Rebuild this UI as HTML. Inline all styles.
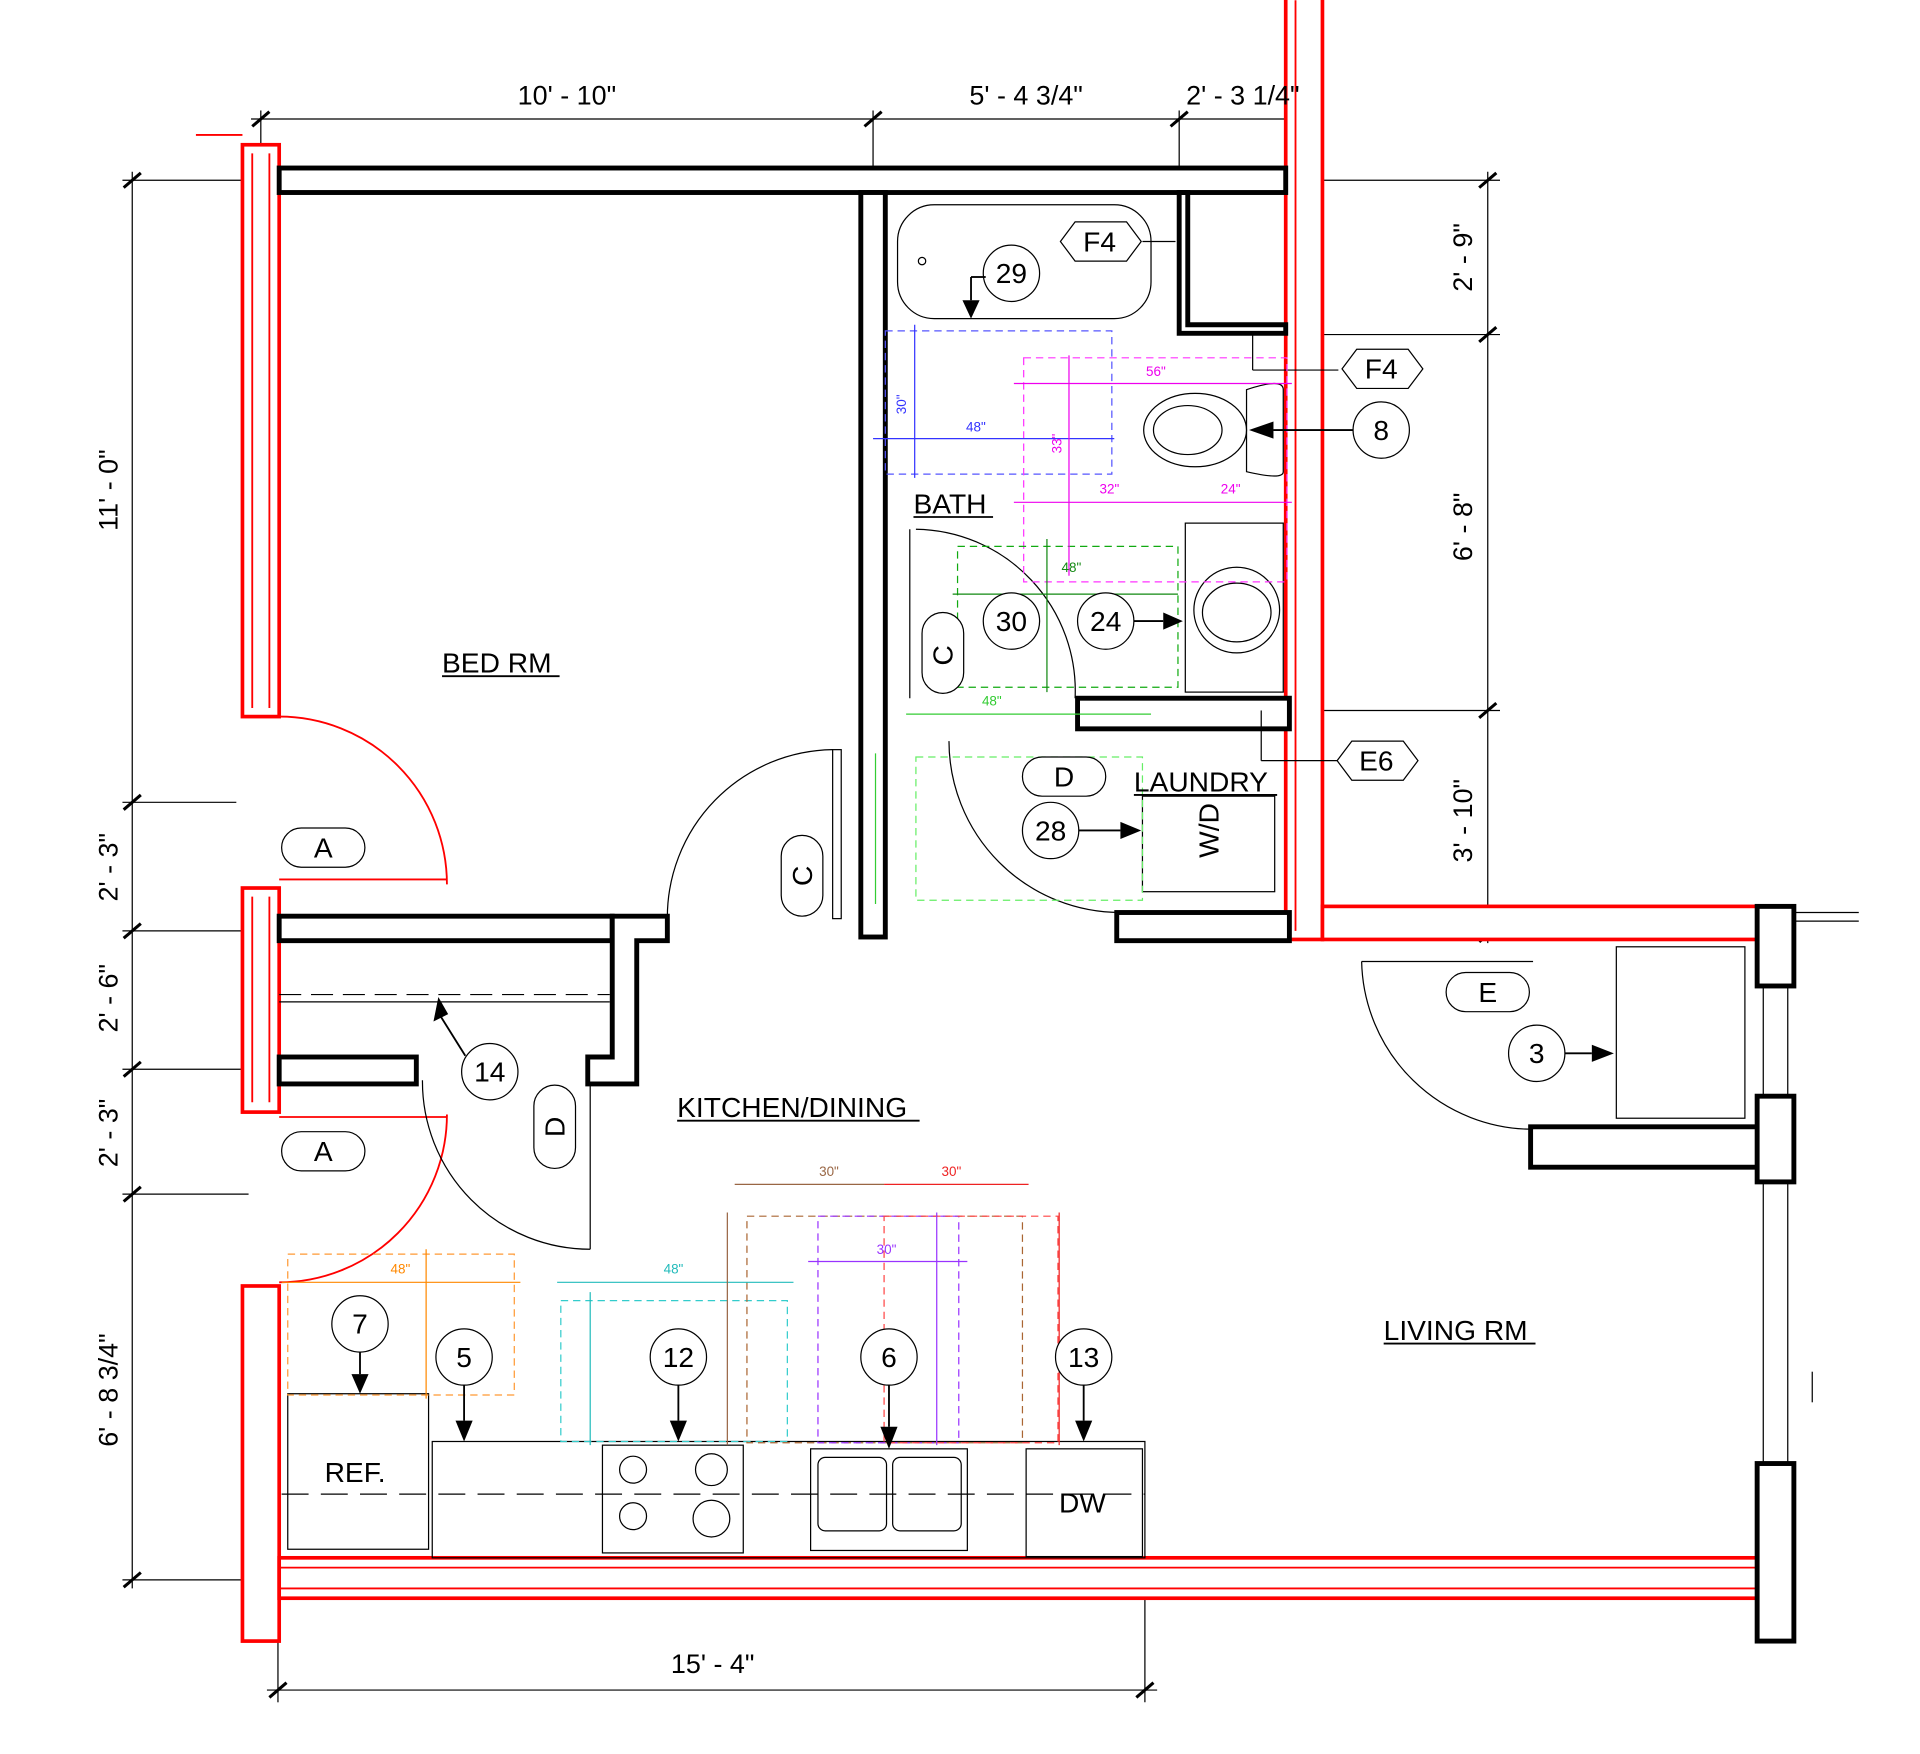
<!DOCTYPE html>
<html><head><meta charset="utf-8"><style>
html,body{margin:0;padding:0;background:#fff}
svg{display:block}
text{font-family:"Liberation Sans",sans-serif}
</style></head><body>
<svg width="1920" height="1754" viewBox="0 0 1568 1432" xmlns="http://www.w3.org/2000/svg">
<rect width="1568" height="1432" fill="#fff"/>
<g stroke="#000" stroke-width="1" fill="none">
<line x1="205" y1="97" x2="1078" y2="97"/>
<line x1="213" y1="90" x2="213" y2="120"/><line x1="713" y1="90" x2="713" y2="137"/><line x1="963" y1="90" x2="963" y2="155"/><line x1="1068" y1="90" x2="1068" y2="110"/>
<line x1="108" y1="140" x2="108" y2="1297"/>
<line x1="100" y1="147" x2="200" y2="147"/><line x1="100" y1="655" x2="193" y2="655"/><line x1="100" y1="760" x2="200" y2="760"/><line x1="100" y1="873" x2="200" y2="873"/><line x1="100" y1="975" x2="203" y2="975"/><line x1="100" y1="1290" x2="200" y2="1290"/>
<line x1="1215" y1="140" x2="1215" y2="770"/>
<line x1="1065" y1="147" x2="1225" y2="147"/><line x1="1065" y1="273" x2="1225" y2="273"/><line x1="1065" y1="580" x2="1225" y2="580"/><line x1="1185" y1="763" x2="1225" y2="763"/>
<line x1="218" y1="1380" x2="945" y2="1380"/>
<line x1="227" y1="1310" x2="227" y2="1390"/><line x1="935" y1="1285" x2="935" y2="1390"/>
</g>
<g stroke="#000" stroke-width="2.5">
<line x1="206" y1="103" x2="220" y2="91"/><line x1="706" y1="103" x2="720" y2="91"/><line x1="956" y1="103" x2="970" y2="91"/><line x1="1061" y1="103" x2="1075" y2="91"/>
<line x1="101" y1="153" x2="115" y2="141"/><line x1="101" y1="661" x2="115" y2="649"/><line x1="101" y1="766" x2="115" y2="754"/><line x1="101" y1="879" x2="115" y2="867"/><line x1="101" y1="981" x2="115" y2="969"/><line x1="101" y1="1296" x2="115" y2="1284"/>
<line x1="1208" y1="153" x2="1222" y2="141"/><line x1="1208" y1="279" x2="1222" y2="267"/><line x1="1208" y1="586" x2="1222" y2="574"/><line x1="1208" y1="769" x2="1222" y2="757"/>
<line x1="220" y1="1386" x2="234" y2="1374"/><line x1="928" y1="1386" x2="942" y2="1374"/>
</g>
<g fill="#fff" stroke="#f00" stroke-width="3">
<rect x="198" y="118" width="30" height="467"/>
<rect x="198" y="725" width="30" height="183"/>
<rect x="198" y="1050" width="30" height="290"/>
<rect x="1050" y="-5" width="30" height="772"/>
<rect x="1080" y="740" width="355" height="27"/>
<rect x="228" y="1272" width="1207" height="33"/>
</g>
<g stroke="#f00" stroke-width="1.5" fill="none">
<line x1="206" y1="125" x2="206" y2="578"/><line x1="220" y1="125" x2="220" y2="578"/>
<line x1="206" y1="732" x2="206" y2="900"/><line x1="220" y1="732" x2="220" y2="900"/>
<line x1="1058" y1="0" x2="1058" y2="760"/><line x1="228" y1="1280" x2="1435" y2="1280"/><line x1="228" y1="1297" x2="1435" y2="1297"/>
<line x1="228" y1="718" x2="365" y2="718"/><line x1="228" y1="912" x2="365" y2="912"/>
<path d="M228 585 A137 137 0 0 1 365 722"/>
<path d="M228 1047 A137 137 0 0 0 365 910"/>
<line x1="160" y1="110" x2="198" y2="110"/>
</g>
<g fill="#fff" stroke="#000" stroke-width="4">
<rect x="228" y="137" width="822" height="20"/>
<rect x="703" y="157" width="20" height="608"/>
<path d="M963 157 V272 H1050 V265 H970 V157 Z"/>
<rect x="228" y="748" width="272" height="20"/>
<path d="M500 748 H545 V768 H520 V885 H480 V863 H500 Z"/>
<rect x="228" y="863" width="112" height="22"/>
<rect x="880" y="570" width="173" height="25"/>
<rect x="912" y="745" width="141" height="23"/>
<rect x="1250" y="920" width="190" height="33"/>
<rect x="1435" y="740" width="30" height="65"/>
<rect x="1435" y="895" width="30" height="70"/>
<rect x="1435" y="1195" width="30" height="145"/>
</g>
<g stroke="#000" stroke-width="1" fill="none">
<rect x="1440" y="805" width="20" height="90"/><rect x="1440" y="965" width="20" height="230"/>
<line x1="1465" y1="745" x2="1518" y2="745"/><line x1="1465" y1="752" x2="1518" y2="752"/>
<line x1="1480" y1="1145" x2="1480" y2="1120"/>
<path d="M545 750 A137 137 0 0 1 680 612"/><rect x="680" y="612" width="7" height="138"/>
<path d="M345 882 A137 137 0 0 0 482 1020"/><line x1="482" y1="885" x2="482" y2="1020"/>
<path d="M748 432 A132 132 0 0 1 878 570"/><line x1="743" y1="432" x2="743" y2="570"/>
<path d="M775 605 A140 140 0 0 0 915 745"/>
<path d="M1112 785 A140 140 0 0 0 1252 922"/><line x1="1112" y1="785" x2="1252" y2="785"/>
<rect x="733" y="167" width="207" height="93" rx="30"/><circle cx="753" cy="213" r="3"/>
<ellipse cx="976" cy="351" rx="42" ry="30"/><ellipse cx="970" cy="351" rx="28" ry="20"/>
<path d="M1018 318 Q1048 308 1048 318 V385 Q1048 392 1018 385 Z"/>
<rect x="968" y="427" width="80" height="138"/><circle cx="1010" cy="498" r="35"/><ellipse cx="1010" cy="500" rx="28" ry="24"/>
<rect x="933" y="650" width="108" height="78"/>
<rect x="1320" y="773" width="105" height="140"/>
<line x1="228" y1="812" x2="498" y2="812" stroke-dasharray="18 8"/>
<line x1="228" y1="818" x2="498" y2="818"/>
<rect x="235" y="1138" width="115" height="127"/>
<rect x="353" y="1177" width="582" height="95"/>
<line x1="230" y1="1220" x2="935" y2="1220" stroke-dasharray="22 10"/>
<rect x="492" y="1180" width="115" height="88"/>
<circle cx="517" cy="1200" r="11"/><circle cx="581" cy="1200" r="13"/><circle cx="517" cy="1238" r="11"/><circle cx="581" cy="1240" r="15"/>
<rect x="662" y="1183" width="128" height="83"/><rect x="668" y="1190" width="56" height="60" rx="6"/><rect x="729" y="1190" width="56" height="60" rx="6"/>
<rect x="838" y="1183" width="95" height="88"/>
<line x1="1023" y1="272" x2="1023" y2="302"/><line x1="1023" y1="302" x2="1093" y2="302"/>
<line x1="1030" y1="580" x2="1030" y2="621"/><line x1="1030" y1="621" x2="1093" y2="621"/>
<line x1="933" y1="197" x2="960" y2="197"/>
</g>
<g fill="none" stroke-width="1" stroke-dasharray="6 4">
<rect x="723" y="270" width="185" height="117" stroke="#55f"/>
<rect x="836" y="292" width="215" height="183" stroke="#f3f"/>
<rect x="782" y="446" width="180" height="115" stroke="#1a1"/>
<rect x="748" y="618" width="185" height="117" stroke="#6e6"/>
<rect x="235" y="1024" width="185" height="115" stroke="#f93"/>
<rect x="458" y="1062" width="185" height="115" stroke="#3cc"/>
<rect x="610" y="993" width="225" height="185" stroke="#a63"/>
<rect x="668" y="993" width="115" height="185" stroke="#93f"/>
<rect x="722" y="993" width="142" height="185" stroke="#f44"/>
</g>
<!-- colored dim lines -->
<g fill="none" stroke-width="1">
<line x1="713" y1="358" x2="910" y2="358" stroke="#33f"/><line x1="747" y1="265" x2="747" y2="390" stroke="#33f"/>
<line x1="828" y1="313" x2="1055" y2="313" stroke="#e0e"/><line x1="828" y1="410" x2="1055" y2="410" stroke="#e0e"/><line x1="873" y1="290" x2="873" y2="470" stroke="#e0e"/>
<line x1="778" y1="485" x2="962" y2="485" stroke="#181"/><line x1="855" y1="440" x2="855" y2="565" stroke="#181"/>
<line x1="740" y1="583" x2="940" y2="583" stroke="#3c3"/><line x1="715" y1="615" x2="715" y2="738" stroke="#3c3"/>
<line x1="230" y1="1047" x2="425" y2="1047" stroke="#f80"/><line x1="348" y1="1020" x2="348" y2="1142" stroke="#f80"/>
<line x1="455" y1="1047" x2="648" y2="1047" stroke="#2bb"/><line x1="482" y1="1055" x2="482" y2="1180" stroke="#2bb"/>
<line x1="600" y1="967" x2="722" y2="967" stroke="#964"/><line x1="594" y1="990" x2="594" y2="1180" stroke="#964"/>
<line x1="722" y1="967" x2="840" y2="967" stroke="#e22"/><line x1="865" y1="990" x2="865" y2="1180" stroke="#e22"/>
<line x1="660" y1="1030" x2="790" y2="1030" stroke="#93f"/><line x1="765" y1="990" x2="765" y2="1180" stroke="#93f"/>
</g>
<g font-size="11" text-anchor="middle">
<text x="797" y="352" fill="#33f">48"</text><text transform="translate(740,330) rotate(-90)" fill="#33f">30"</text>
<text x="944" y="307" fill="#e0e">56"</text><text x="906" y="403" fill="#e0e">32"</text><text x="1005" y="403" fill="#e0e">24"</text><text transform="translate(867,362) rotate(-90)" fill="#e0e">33"</text>
<text x="875" y="467" fill="#181">48"</text><text x="810" y="576" fill="#3c3">48"</text>
<text x="327" y="1040" fill="#f80">48"</text><text x="550" y="1040" fill="#2bb">48"</text>
<text x="677" y="960" fill="#964">30"</text><text x="777" y="960" fill="#e22">30"</text><text x="724" y="1024" fill="#93f">30"</text>
</g>
<g fill="#fff" stroke="#000" stroke-width="1">
<circle cx="826" cy="223" r="23"/><circle cx="1128" cy="351" r="23"/><circle cx="826" cy="507" r="23"/><circle cx="903" cy="507" r="23"/><circle cx="858" cy="678" r="23"/><circle cx="400" cy="875" r="23"/><circle cx="1255" cy="860" r="23"/><circle cx="294" cy="1081" r="23"/><circle cx="379" cy="1108" r="23"/><circle cx="554" cy="1108" r="23"/><circle cx="726" cy="1108" r="23"/><circle cx="885" cy="1108" r="23"/>
<rect x="230" y="676" width="68" height="32" rx="16"/><rect x="230" y="924" width="68" height="32" rx="16"/>
<rect x="835" y="618" width="68" height="32" rx="16"/><rect x="1181" y="794" width="68" height="32" rx="16"/>
<rect x="638" y="682" width="34" height="66" rx="17"/><rect x="753" y="500" width="34" height="66" rx="17"/><rect x="436" y="886" width="34" height="68" rx="17"/>
<polygon points="866,197 878,181 920,181 932,197 920,213 878,213"/>
<polygon points="1096,301 1108,285 1150,285 1162,301 1150,317 1108,317"/>
<polygon points="1092,621 1104,605 1146,605 1158,621 1146,637 1104,637"/>
</g>
<g font-size="22" fill="#000" text-anchor="middle">
<text x="463" y="85">10' - 10"</text><text x="838" y="85">5' - 4 3/4"</text><text x="1015" y="85">2' - 3 1/4"</text>
<text x="582" y="1366">15' - 4"</text>
<text transform="translate(96,400) rotate(-90)">11' - 0"</text>
<text transform="translate(96,708) rotate(-90)">2' - 3"</text>
<text transform="translate(96,815) rotate(-90)">2' - 6"</text>
<text transform="translate(96,925) rotate(-90)">2' - 3"</text>
<text transform="translate(96,1135) rotate(-90)">6' - 8 3/4"</text>
<text transform="translate(1202,210) rotate(-90)">2' - 9"</text>
<text transform="translate(1202,430) rotate(-90)">6' - 8"</text>
<text transform="translate(1202,670) rotate(-90)">3' - 10"</text>
</g>
<g font-size="23" text-anchor="middle" fill="#000">
<text x="826" y="231">29</text><text x="1128" y="359">8</text><text x="826" y="515">30</text><text x="903" y="515">24</text><text x="858" y="686">28</text><text x="400" y="883">14</text><text x="1255" y="868">3</text><text x="294" y="1089">7</text><text x="379" y="1116">5</text><text x="554" y="1116">12</text><text x="726" y="1116">6</text><text x="885" y="1116">13</text>
<text x="264" y="700">A</text><text x="264" y="948">A</text><text x="869" y="642">D</text><text x="1215" y="818">E</text>
<text transform="translate(663,715) rotate(-90)">C</text><text transform="translate(778,535) rotate(-90)">C</text><text transform="translate(461,920) rotate(-90)">D</text>
<text x="898" y="205">F4</text><text x="1128" y="309">F4</text><text x="1124" y="629">E6</text>
<text x="290" y="1210">REF.</text><text x="884" y="1235">DW</text>
<text transform="translate(995,678) rotate(-90)">W/D</text>
</g>
<g font-size="23" fill="#000">
<text x="361" y="549">BED RM</text><text x="746" y="419">BATH</text><text x="926" y="646">LAUNDRY</text><text x="553" y="912">KITCHEN/DINING</text><text x="1130" y="1094">LIVING RM</text>
</g>
<g stroke="#000" stroke-width="1.5">
<line x1="361" y1="552" x2="457" y2="552"/><line x1="746" y1="422" x2="811" y2="422"/><line x1="926" y1="649" x2="1043" y2="649"/><line x1="553" y1="915" x2="751" y2="915"/><line x1="1130" y1="1097" x2="1254" y2="1097"/>
<line x1="805" y1="226" x2="793" y2="226"/><line x1="793" y1="226" x2="793" y2="245"/>
<line x1="1105" y1="351" x2="1040" y2="351"/><line x1="926" y1="507" x2="950" y2="507"/><line x1="881" y1="678" x2="915" y2="678"/>
<line x1="380" y1="862" x2="360" y2="830"/><line x1="1278" y1="860" x2="1300" y2="860"/>
<line x1="294" y1="1104" x2="294" y2="1122"/><line x1="379" y1="1131" x2="379" y2="1160"/><line x1="554" y1="1131" x2="554" y2="1160"/><line x1="726" y1="1131" x2="726" y2="1165"/><line x1="885" y1="1131" x2="885" y2="1160"/>
</g>
<g fill="#000">
<polygon points="786,245 800,245 793,260"/>
<polygon points="1040,344 1040,358 1020,351"/><polygon points="950,500 950,514 966,507"/><polygon points="915,671 915,685 932,678"/>
<polygon points="354,834 366,828 358,814"/><polygon points="1300,853 1300,867 1318,860"/>
<polygon points="287,1122 301,1122 294,1138"/><polygon points="372,1160 386,1160 379,1177"/><polygon points="547,1160 561,1160 554,1177"/><polygon points="719,1165 733,1165 726,1183"/><polygon points="878,1160 892,1160 885,1177"/>
</g>
</svg>
</body></html>
